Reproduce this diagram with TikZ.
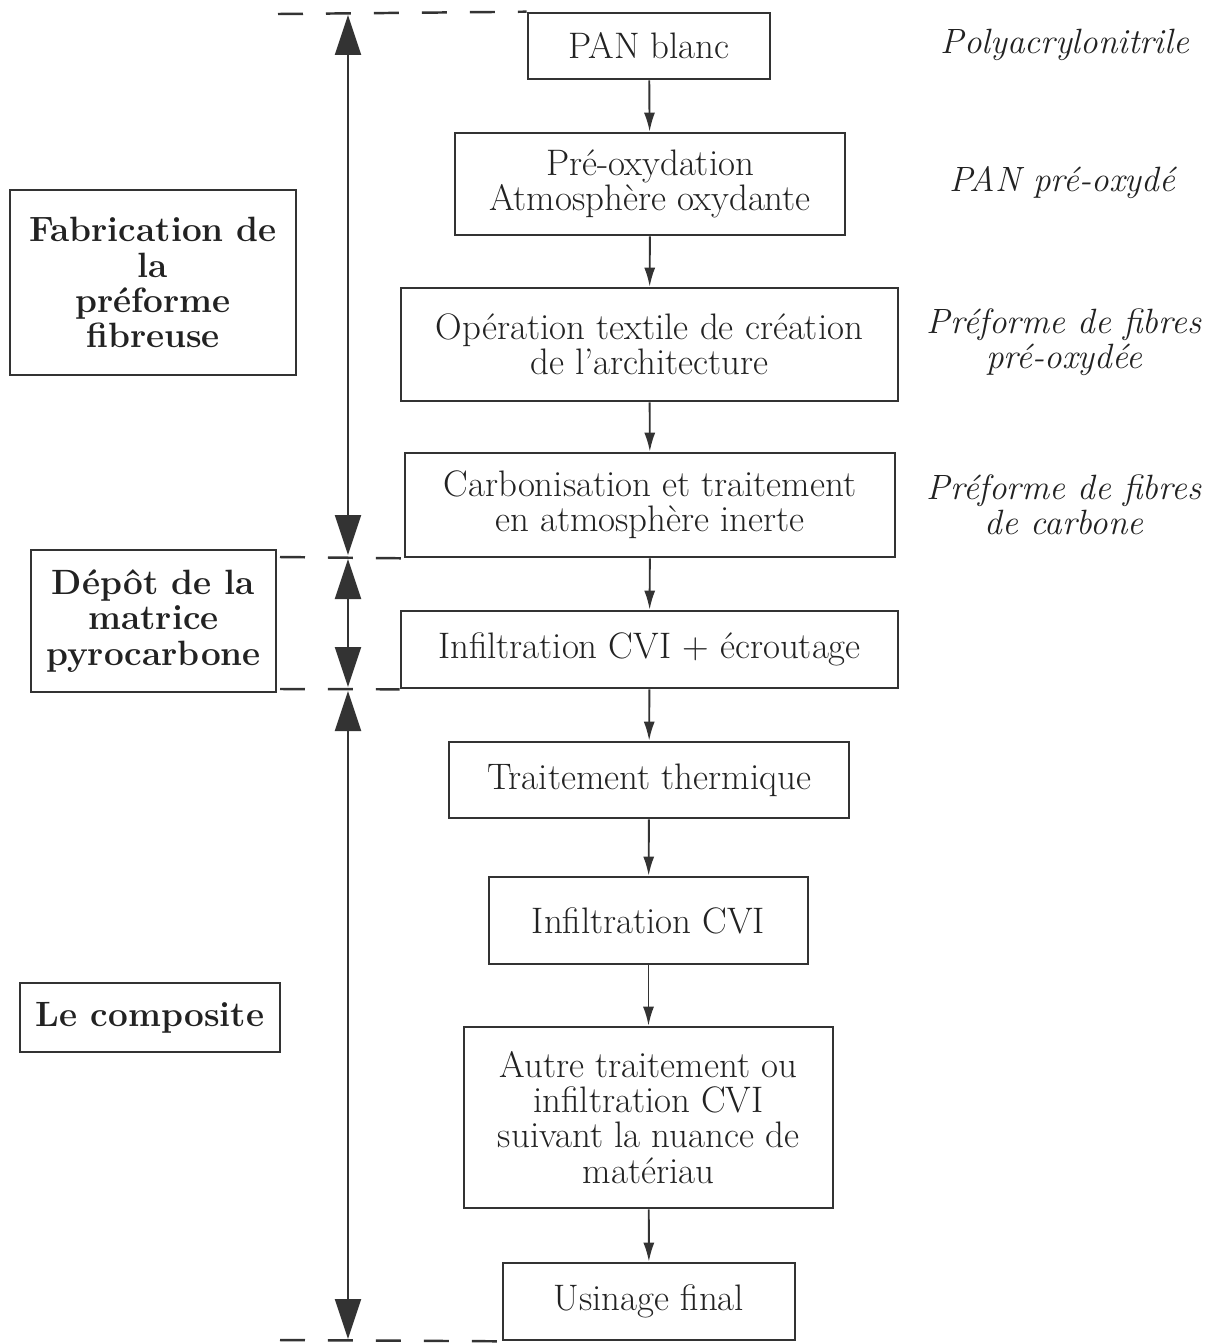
\documentclass[tikz,border=0pt]{standalone}
\usepackage{xcolor}
\usetikzlibrary{arrows.meta}
\definecolor{encre}{HTML}{333333}
\definecolor{texte}{HTML}{222222}
\tikzset{
  etape/.style={draw=encre, line width=1.5pt, align=center, inner sep=0pt,
    font=\fontsize{21}{20}\selectfont, text=texte},
  phase/.style={etape, font=\fontsize{20}{20}\selectfont\bfseries},
  produit/.style={align=center, text=texte, font=\fontsize{20}{20}\selectfont\itshape},
  fleche/.style={draw=encre, line width=1.1pt, -{Latex[length=0.38cm,width=0.22cm]}},
  grande/.style={draw=encre, line width=1.1pt, {Triangle[length=0.8cm,width=0.52cm]}-{Triangle[length=0.8cm,width=0.52cm]}},
  limite/.style={draw=encre, line width=1.4pt, dash pattern=on 0.5cm off 0.46cm}
}
\begin{document}
\begin{tikzpicture}[x=0.02cm, y=-0.02cm]
  \useasboundingbox (0,0) rectangle (1219,1343);

  % Etapes du procede
  \node[etape, minimum width=4.84cm, minimum height=1.32cm] (pan) at (649,46) {PAN blanc};
  \node[etape, minimum width=7.8cm, minimum height=2.04cm] (preox) at (650,184) {Pré-oxydation\\Atmosphère oxydante};
  \node[etape, minimum width=9.94cm, minimum height=2.26cm] (textile) at (649.5,344.5) {Opération textile de création\\de l'architecture};
  \node[etape, minimum width=9.8cm, minimum height=2.08cm] (carbo) at (650,505) {Carbonisation et traitement\\en atmosphère inerte};
  \node[etape, minimum width=9.94cm, minimum height=1.54cm] (infecr) at (649.5,649.5) {Infiltration CVI + écroutage};
  \node[etape, minimum width=8cm, minimum height=1.52cm] (therm) at (649,780) {Traitement thermique};
  \node[etape, minimum width=6.38cm, minimum height=1.74cm] (cvi) at (648.5,920.5) {Infiltration CVI};
  \node[etape, minimum width=7.38cm, minimum height=3.62cm] (autre) at (648.5,1117.5) {Autre traitement ou\\infiltration CVI\\suivant la nuance de\\matériau};
  \node[etape, minimum width=5.84cm, minimum height=1.54cm] (usin) at (649,1301.5) {Usinage final};

  % Fleches entre etapes
  \draw[fleche] (pan) -- (preox);
  \draw[fleche] (preox) -- (textile);
  \draw[fleche] (textile) -- (carbo);
  \draw[fleche] (carbo) -- (infecr);
  \draw[fleche] (infecr) -- (therm);
  \draw[fleche] (therm) -- (cvi);
  \draw[fleche] (cvi) -- (autre);
  \draw[fleche] (autre) -- (usin);

  % Produits intermediaires
  \node[produit] (poly) at (1065,45) {Polyacrylonitrile};
  \node[produit] (panox) at (1062,183) {PAN pré-oxydé};
  \node[produit] (prefox) at (1064,342) {Préforme de fibres\\pré-oxydée};
  \node[produit] (prefc) at (1064,505) {Préforme de fibres\\de carbone};

  % Phases
  \node[phase, minimum width=5.72cm, minimum height=3.7cm] (fab) at (153,282.5) {Fabrication de\\la\\préforme\\fibreuse};
  \node[phase, minimum width=4.9cm, minimum height=2.84cm] (depot) at (153.5,621) {Dépôt de la\\matrice\\pyrocarbone};
  \node[phase, minimum width=5.2cm, minimum height=1.38cm] (compo) at (150,1017.5) {Le composite};

  % Limites entre phases
  \coordinate (l0) at (278,14);
  \coordinate (l1) at (280,557);
  \coordinate (l2) at (280,689);
  \coordinate (l3) at (280,1340);
  \draw[limite] (l0) -- (pan.north west);
  \draw[limite] (l1) -- (carbo.south west);
  \draw[limite] (l2) -- (infecr.south west);
  \draw[limite] (l3) -- (usin.south west);

  % Etendue des phases
  \coordinate (a0) at (348,15);
  \coordinate (a1) at (348,555);
  \coordinate (a2) at (348,559);
  \coordinate (a3) at (348,687);
  \coordinate (a4) at (348,691);
  \coordinate (a5) at (348,1339);
  \draw[grande] (a0) -- (a1);
  \draw[grande] (a2) -- (a3);
  \draw[grande] (a4) -- (a5);
\end{tikzpicture}
\end{document}
